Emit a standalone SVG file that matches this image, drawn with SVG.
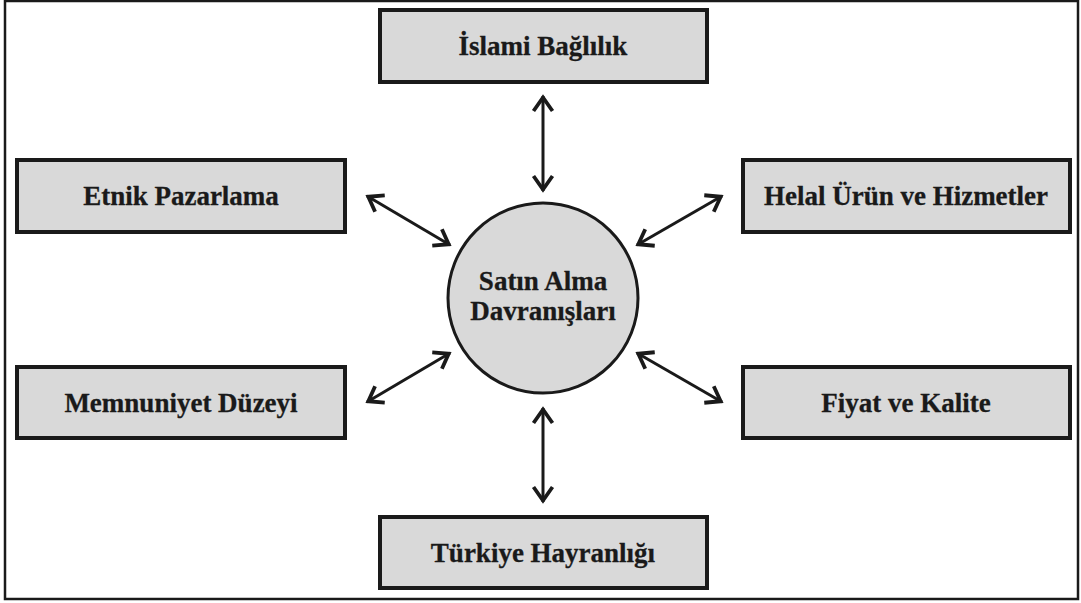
<svg xmlns="http://www.w3.org/2000/svg" width="1081" height="603" viewBox="0 0 1081 603">
<style>
.box{fill:#d9d9d9;stroke:#1a1a1a;stroke-width:4}
.lbl{font-family:'Liberation Serif','Times New Roman',serif;font-weight:bold;font-size:27px;fill:#1a1a1a;stroke:#1a1a1a;stroke-width:0.3;text-anchor:middle}
.con{stroke:#1a1a1a;stroke-width:3;fill:none;marker-start:url(#ah);marker-end:url(#ah)}
</style>
<defs>
<marker id="ah" markerUnits="userSpaceOnUse" viewBox="-20 -15 30 30" markerWidth="30" markerHeight="30" refX="0" refY="0" orient="auto-start-reverse" overflow="visible">
<path d="M -15 -9.5 L -1.5 0 L -15 9.5" fill="none" stroke="#1a1a1a" stroke-width="3.8" stroke-linecap="butt" stroke-linejoin="miter"/>
</marker>
</defs>
<rect width="1081" height="603" fill="#ffffff"/>
<rect x="5" y="1" width="1073" height="598" fill="none" stroke="#1a1a1a" stroke-width="2.5"/>
<g id="connectors">
<line class="con" x1="543" y1="96" x2="543" y2="191"/>
<line class="con" x1="543" y1="408" x2="543" y2="502"/>
<line class="con" x1="367" y1="196" x2="450" y2="245"/>
<line class="con" x1="722" y1="196" x2="637" y2="245"/>
<line class="con" x1="367" y1="402" x2="450" y2="353"/>
<line class="con" x1="722" y1="402" x2="637" y2="353"/>
</g>
<g id="n-islami"><rect class="box" x="380" y="10" width="327" height="72"/><text class="lbl" x="543" y="55">İslami Bağlılık</text></g>
<g id="n-etnik"><rect class="box" x="17" y="160" width="328" height="72"/><text class="lbl" x="181" y="205">Etnik Pazarlama</text></g>
<g id="n-helal"><rect class="box" x="743" y="160" width="327" height="72"/><text class="lbl" x="906" y="205">Helal Ürün ve Hizmetler</text></g>
<g id="n-memnuniyet"><rect class="box" x="17" y="367" width="328" height="71"/><text class="lbl" x="181" y="412">Memnuniyet Düzeyi</text></g>
<g id="n-fiyat"><rect class="box" x="743" y="367" width="327" height="71"/><text class="lbl" x="906" y="412">Fiyat ve Kalite</text></g>
<g id="n-turkiye"><rect class="box" x="380" y="517" width="327" height="71"/><text class="lbl" x="543" y="562">Türkiye Hayranlığı</text></g>
<g id="n-center"><circle cx="543" cy="298" r="95" fill="#d9d9d9" stroke="#1a1a1a" stroke-width="3"/><text class="lbl" x="543" y="290">Satın Alma</text><text class="lbl" x="543" y="320">Davranışları</text></g>
</svg>
